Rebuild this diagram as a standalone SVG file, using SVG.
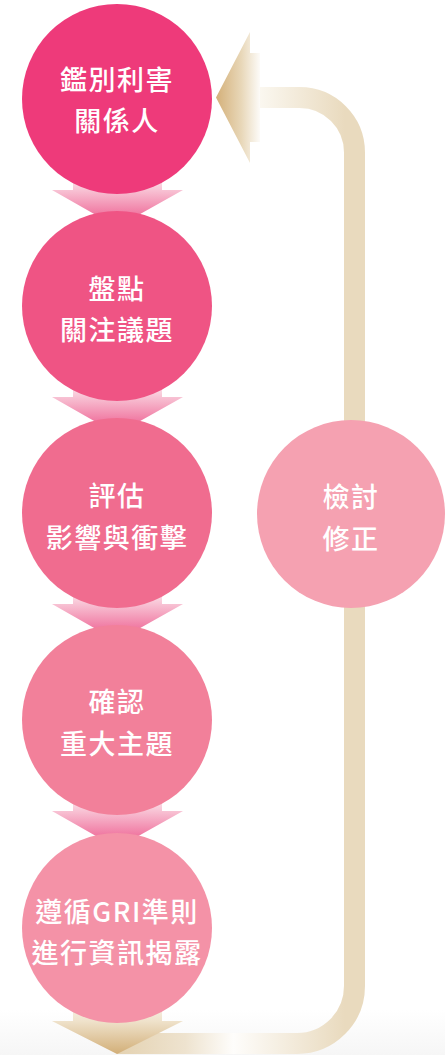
<svg xmlns="http://www.w3.org/2000/svg" width="445" height="1055" viewBox="0 0 445 1055">
  <defs>
    <linearGradient id="chev" x1="0" y1="0" x2="0" y2="1">
      <stop offset="0" stop-color="#ffffff"/>
      <stop offset="0.3" stop-color="#fbe3ea"/>
      <stop offset="1" stop-color="#ec5187"/>
    </linearGradient>
    <linearGradient id="bgband" x1="0" y1="0" x2="0" y2="1">
      <stop offset="0" stop-color="#ffffff"/>
      <stop offset="1" stop-color="#f6f6f6"/>
    </linearGradient>
    <linearGradient id="topHead" gradientUnits="userSpaceOnUse" x1="216" y1="0" x2="262" y2="0">
      <stop offset="0" stop-color="#d4b079"/>
      <stop offset="0.55" stop-color="#e8d7b8"/>
      <stop offset="1" stop-color="#ffffff"/>
    </linearGradient>
    <linearGradient id="topBar" gradientUnits="userSpaceOnUse" x1="258" y1="0" x2="345" y2="0">
      <stop offset="0" stop-color="#fbf8f1"/>
      <stop offset="1" stop-color="#e9dabe"/>
    </linearGradient>
    <linearGradient id="botBar" gradientUnits="userSpaceOnUse" x1="117" y1="0" x2="345" y2="0">
      <stop offset="0" stop-color="#e4d2b1"/>
      <stop offset="0.3" stop-color="#eee3cf"/>
      <stop offset="0.51" stop-color="#fefdfb"/>
      <stop offset="1" stop-color="#e9dabe"/>
    </linearGradient>
    <linearGradient id="botHead" gradientUnits="userSpaceOnUse" x1="0" y1="1000" x2="0" y2="1053">
      <stop offset="0" stop-color="#fbf7f0"/>
      <stop offset="0.4" stop-color="#efe2cb"/>
      <stop offset="1" stop-color="#d3b07a"/>
    </linearGradient>
  </defs>
  <style>
    .lbl { font-family: "Noto Sans CJK TC", "Noto Sans CJK SC", sans-serif; font-size: 27px; font-weight: 500; fill: #ffffff; text-anchor: middle; dominant-baseline: central; letter-spacing: 1.5px; }
    .chev { fill: url(#chev); }
  </style>

  <rect x="0" y="1010" width="445" height="45" fill="url(#bgband)"/>

  <g id="connectors">
    <path d="M258 97.5 H299.5 A55 55 0 0 1 354.5 152.5 V520" fill="none" stroke="url(#topBar)" stroke-width="21"/>
    <path d="M117 1043.5 H297 A57.5 57.5 0 0 0 354.5 986 V510" fill="none" stroke="url(#botBar)" stroke-width="21"/>
    <polygon points="216,97.5 250,32 250,53 260,53 260,142 250,142 250,163" fill="url(#topHead)"/>
    <polygon points="73,990 162,990 162,1021 183,1021 117,1054 52,1021 73,1021" fill="url(#botHead)"/>
    <g transform="translate(0,99)"><polygon class="chev" points="73,60 162,60 162,91 183,91 117,128 52,91 73,91"/></g>
    <g transform="translate(0,306)"><polygon class="chev" points="73,60 162,60 162,91 183,91 117,128 52,91 73,91"/></g>
    <g transform="translate(0,513)"><polygon class="chev" points="73,60 162,60 162,91 183,91 117,128 52,91 73,91"/></g>
    <g transform="translate(0,720)"><polygon class="chev" points="73,60 162,60 162,91 183,91 117,128 52,91 73,91"/></g>
  </g>

  <g id="n1">
    <circle cx="117" cy="99" r="95" fill="#ee3a7a"/>
    <text class="lbl" x="117" y="78">鑑別利害</text>
    <text class="lbl" x="117" y="119">關係人</text>
  </g>
  <g id="n2">
    <circle cx="117" cy="306" r="95" fill="#ef5484"/>
    <text class="lbl" x="117" y="287">盤點</text>
    <text class="lbl" x="117" y="328">關注議題</text>
  </g>
  <g id="n3">
    <circle cx="117" cy="513" r="95" fill="#f06c8f"/>
    <text class="lbl" x="117" y="494">評估</text>
    <text class="lbl" x="117" y="536">影響與衝擊</text>
  </g>
  <g id="n4">
    <circle cx="117" cy="720" r="95" fill="#f2809a"/>
    <text class="lbl" x="117" y="700">確認</text>
    <text class="lbl" x="117" y="742">重大主題</text>
  </g>
  <g id="n5">
    <circle cx="117" cy="928" r="95" fill="#f492a7"/>
    <text class="lbl" x="117" y="910">遵循GRI準則</text>
    <text class="lbl" x="117" y="951">進行資訊揭露</text>
  </g>
  <g id="n6">
    <circle cx="351" cy="514" r="94" fill="#f5a1b1"/>
    <text class="lbl" x="351" y="495">檢討</text>
    <text class="lbl" x="351" y="537">修正</text>
  </g>
</svg>
